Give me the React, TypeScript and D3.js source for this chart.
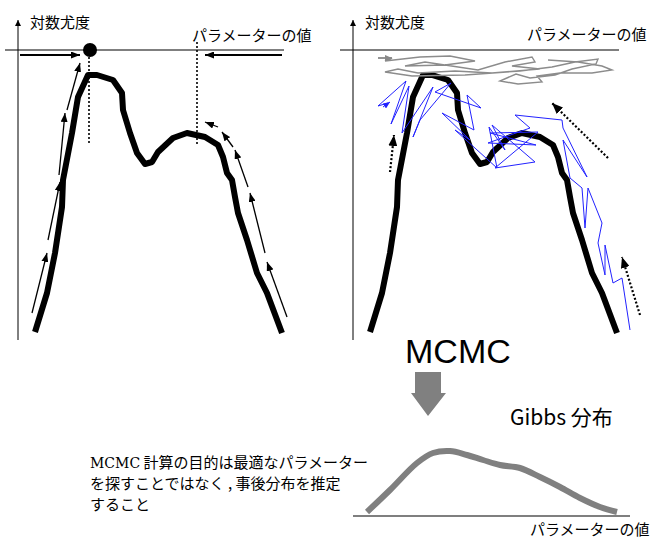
import * as d3 from "d3";

// 対数尤度の曲線（パラメーター値, 対数尤度）
const curveParam = [17, 29, 37, 44, 45, 54, 60, 70, 79, 95, 104, 105, 112, 119, 127, 134, 140, 155, 169, 187, 200, 205, 209, 214, 217, 220, 229, 239, 249, 264];
const curveLogLik = [6, 45, 85, 131, 158, 205, 241, 263, 263, 258, 245, 228, 205, 185, 174, 176, 186, 200, 205, 201, 193, 181, 165, 158, 141, 125, 98, 65, 45, 5];

// 勾配法の矢印 [x1, y1, x2, y2]
const climbArrows = [
  [14, 25, 29, 85],
  [30, 98, 42, 156],
  [41, 163, 47, 225],
  [49, 228, 62, 275],
  [269, 21, 249, 76],
  [247, 85, 232, 145],
  [230, 151, 217, 188],
  [215, 191, 204, 206],
  [200, 211, 187, 216],
  [2, 283, 62, 283],
  [264, 283, 187, 283],
];
const optimum = [72, 288];
const dottedDrops = [
  [71, 281, 71, 193],
  [179, 296, 179, 193],
];

// MCMC の軌跡
const grayTrace = [
  [25, 280], [39, 280], [32, 277], [67, 281], [97, 282], [122, 277], [92, 273], [52, 272], [72, 276],
  [125, 268], [152, 276], [179, 281], [182, 276], [159, 272], [187, 269], [139, 265], [102, 267],
  [65, 265], [45, 269], [32, 266], [59, 262], [112, 263], [167, 267], [199, 271], [222, 276],
  [245, 279], [243, 274], [219, 269], [202, 263], [177, 260], [163, 264], [147, 257], [165, 254],
  [189, 256], [184, 262], [207, 265], [239, 265], [259, 268], [249, 272], [225, 276], [195, 278],
];
const blueTrace = [
  [35, 235], [25, 232], [53, 257], [38, 214], [56, 252], [49, 205], [80, 251], [60, 201], [67, 218],
  [98, 255], [82, 246], [128, 230], [114, 243], [121, 208], [89, 225], [117, 198], [102, 208],
  [144, 170], [136, 211], [152, 188], [139, 213], [182, 176], [142, 170], [185, 206], [137, 205],
  [183, 193], [135, 195], [177, 210], [162, 223], [209, 218], [210, 210], [234, 161], [210, 198],
  [217, 160], [229, 150], [232, 110], [235, 150], [249, 115], [245, 95], [252, 63], [252, 93],
  [260, 55], [269, 60], [277, 8],
];
const dottedArrows = [
  [37, 166, 41, 203],
  [255, 180, 199, 235],
  [287, 23, 269, 81],
];

// Gibbs 分布
const gibbsParam = [14, 37, 64, 80, 97, 114, 130, 147, 167, 187, 207, 227, 247, 264];
const gibbsDensity = [4, 26, 53, 63, 65, 61, 56, 51, 48, 39, 29, 18, 9, 4];

const axisLabel = "対数尤度";
const paramLabel = "パラメーターの値";
const noteLines = ["計算の目的は最適なパラメーター", "を探すことではなく , 事後分布を推定", "すること"];

const jp = "'Noto Sans CJK JP', sans-serif";

const xL = d3.scaleLinear().domain([0, 270]).range([18, 288]);
const xR = d3.scaleLinear().domain([0, 270]).range([353, 623]);
const y = d3.scaleLinear().domain([0, 288]).range([338, 50]);
const gx = d3.scaleLinear().domain([0, 270]).range([353, 623]);
const gy = d3.scaleLinear().domain([0, 100]).range([516, 416]);

const curveData = curveParam.map((p, i) => [p, curveLogLik[i]]);

function Panel({ x, labelX, labelY }: { x: d3.ScaleLinear<number, number>; labelX: number; labelY: number }) {
  const line = d3.line<number[]>().x((d) => x(d[0])).y((d) => y(d[1]));
  return (
    <g>
      <line x1={x(0)} x2={x(0)} y1={y(-2)} y2={y(318)} stroke="#000" strokeWidth={1} markerEnd="url(#axisHead)" />
      <line x1={x(-13)} x2={x(266)} y1={y(288)} y2={y(288)} stroke="#000" strokeWidth={1.2} />
      <path d={line(curveData) || ""} fill="none" stroke="#000" strokeWidth={6} strokeLinejoin="round" />
      <text x={x(12)} y={28} fontFamily={jp} fontSize={15}>{axisLabel}</text>
      <text x={x(labelX)} y={labelY} fontFamily={jp} fontSize={15}>{paramLabel}</text>
    </g>
  );
}

export default function App() {
  const traceLine = d3.line<number[]>().x((d) => xR(d[0])).y((d) => y(d[1]));
  const gibbsLine = d3
    .line<number>()
    .x((d, i) => gx(gibbsParam[i]))
    .y((d) => gy(d))
    .curve(d3.curveCatmullRom);

  return (
    <svg width={650} height={540} style={{ position: "absolute", left: 0, top: 0, background: "#fff" }}>
      <defs>
        <marker id="axisHead" markerUnits="userSpaceOnUse" markerWidth={6} markerHeight={6} refX={6} refY={3} orient="auto">
          <path d="M0,0 L6,3 L0,6 Z" fill="#000" />
        </marker>
        <marker id="head" markerUnits="userSpaceOnUse" markerWidth={9} markerHeight={7} refX={9} refY={3.5} orient="auto">
          <path d="M0,0 L9,3.5 L0,7 Z" fill="#000" />
        </marker>
        <marker id="bigHead" markerUnits="userSpaceOnUse" markerWidth={11} markerHeight={9} refX={11} refY={4.5} orient="auto">
          <path d="M0,0 L11,4.5 L0,9 Z" fill="#000" />
        </marker>
        <marker id="grayHead" markerUnits="userSpaceOnUse" markerWidth={7} markerHeight={6} refX={7} refY={3} orient="auto">
          <path d="M0,0 L7,3 L0,6 Z" fill="#888" />
        </marker>
        <marker id="blueHead" markerUnits="userSpaceOnUse" markerWidth={7} markerHeight={6} refX={7} refY={3} orient="auto">
          <path d="M0,0 L7,3 L0,6 Z" fill="#2222ff" />
        </marker>
      </defs>

      {/* 左：最適化 */}
      <Panel x={xL} labelX={174} labelY={41} />
      {dottedDrops.map((d, i) => (
        <line key={i} x1={xL(d[0])} y1={y(d[1])} x2={xL(d[2])} y2={y(d[3])} stroke="#000" strokeWidth={1.6} strokeDasharray="2,2" />
      ))}
      {climbArrows.map((d, i) => (
        <line key={i} x1={xL(d[0])} y1={y(d[1])} x2={xL(d[2])} y2={y(d[3])} stroke="#000" strokeWidth={i > 8 ? 2 : 1.3} markerEnd="url(#head)" />
      ))}
      <circle cx={xL(optimum[0])} cy={y(optimum[1])} r={7} fill="#000" />

      {/* 右：MCMC */}
      <Panel x={xR} labelX={174} labelY={40} />
      <path d={traceLine(grayTrace) || ""} fill="none" stroke="#8c8c8c" strokeWidth={1.4} />
      <line x1={xR(grayTrace[0][0])} y1={y(grayTrace[0][1])} x2={xR(grayTrace[1][0])} y2={y(grayTrace[1][1])} stroke="#8c8c8c" strokeWidth={1.4} markerEnd="url(#grayHead)" />
      <path d={traceLine(blueTrace) || ""} fill="none" stroke="#2222ff" strokeWidth={1} />
      <line x1={xR(30)} y1={y(231)} x2={xR(37)} y2={y(236)} stroke="#2222ff" strokeWidth={1} markerEnd="url(#blueHead)" />
      {dottedArrows.map((d, i) => (
        <line key={i} x1={xR(d[0])} y1={y(d[1])} x2={xR(d[2])} y2={y(d[3])} stroke="#000" strokeWidth={2.2} strokeDasharray="2,2" markerEnd="url(#bigHead)" />
      ))}

      {/* MCMC → Gibbs 分布 */}
      <text x={405} y={363} fontFamily="'Liberation Sans', Arial, sans-serif" fontSize={34}>MCMC</text>
      <path d="M415,372 L441,372 L441,393 L446,393 L428,416 L411,393 L415,393 Z" fill="#808080" />
      <text x={510} y={425} fontFamily={jp} fontSize={21}>Gibbs 分布</text>
      <line x1={gx(0)} x2={gx(277)} y1={gy(0)} y2={gy(0)} stroke="#000" strokeWidth={1.2} />
      <path d={gibbsLine(gibbsDensity) || ""} fill="none" stroke="#808080" strokeWidth={6} strokeLinejoin="round" />
      <text x={530} y={535} fontFamily={jp} fontSize={15}>{paramLabel}</text>

      <text x={90} y={468} fontFamily={jp} fontSize={15}>
        <tspan fontFamily="'DejaVu Serif', serif" fontSize={14}>MCMC</tspan> {noteLines[0]}
      </text>
      <text x={90} y={489} fontFamily={jp} fontSize={15}>{noteLines[1]}</text>
      <text x={90} y={510} fontFamily={jp} fontSize={15}>{noteLines[2]}</text>
    </svg>
  );
}
